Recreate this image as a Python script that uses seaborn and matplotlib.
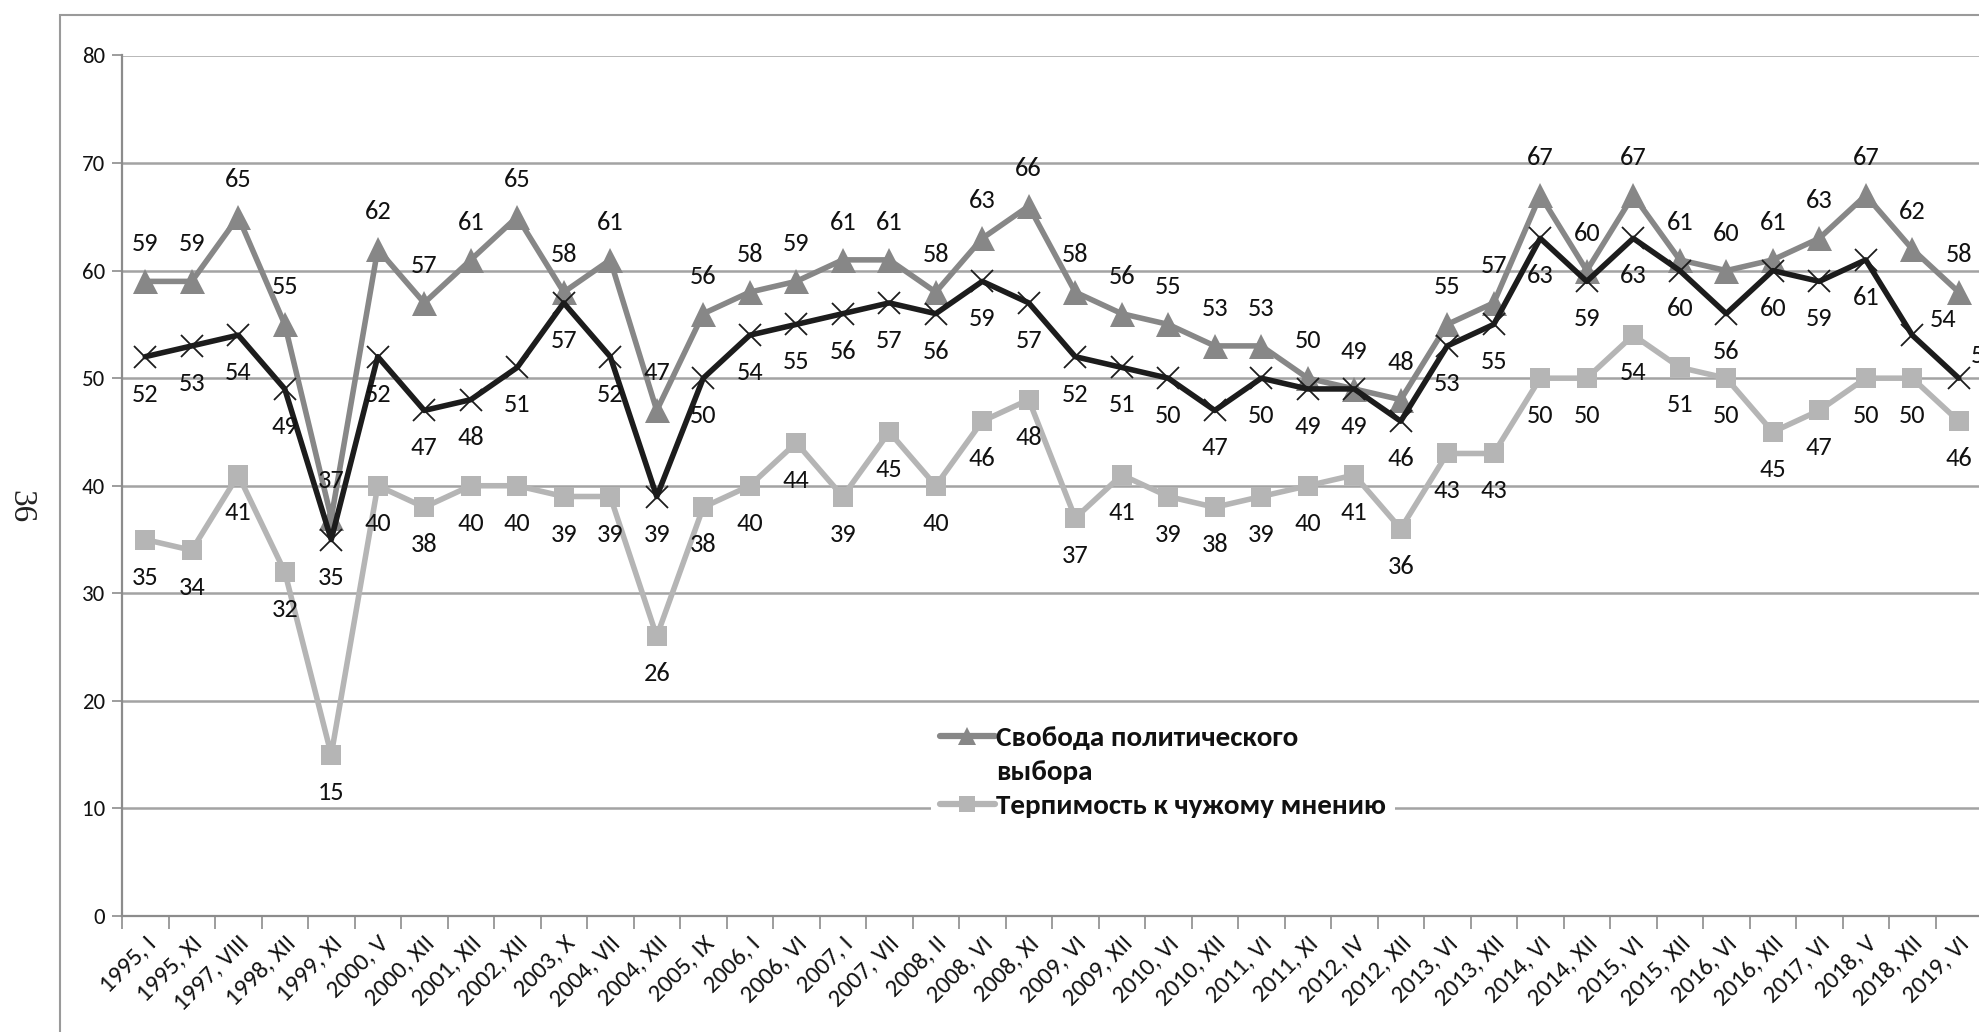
import numpy as np
import pandas as pd
import matplotlib
matplotlib.use("Agg")
import matplotlib.pyplot as plt
import seaborn as sns
from matplotlib import font_manager
from matplotlib.patches import Rectangle
from matplotlib.lines import Line2D

categories = [
    "1995, I", "1995, XI", "1997, VIII", "1998, XII", "1999, XI", "2000, V",
    "2000, XII", "2001, XII", "2002, XII", "2003, X", "2004, VII", "2004, XII",
    "2005, IX", "2006, I", "2006, VI", "2007, I", "2007, VII", "2008, II",
    "2008, VI", "2008, XI", "2009, VI", "2009, XII", "2010, VI", "2010, XII",
    "2011, VI", "2011, XI", "2012, IV", "2012, XII", "2013, VI", "2013, XII",
    "2014, VI", "2014, XII", "2015, VI", "2015, XII", "2016, VI", "2016, XII",
    "2017, VI", "2018, V", "2018, XII", "2019, VI",
]
svoboda_vybora = [59, 59, 65, 55, 37, 62, 57, 61, 65, 58, 61, 47, 56, 58, 59, 61, 61, 58, 63, 66,
                  58, 56, 55, 53, 53, 50, 49, 48, 55, 57, 67, 60, 67, 61, 60, 61, 63, 67, 62, 58]
black_series = [52, 53, 54, 49, 35, 52, 47, 48, 51, 57, 52, 39, 50, 54, 55, 56, 57, 56, 59, 57,
                52, 51, 50, 47, 50, 49, 49, 46, 53, 55, 63, 59, 63, 60, 56, 60, 59, 61, 54, 50]
terpimost = [35, 34, 41, 32, 15, 40, 38, 40, 40, 39, 39, 26, 38, 40, 44, 39, 45, 40, 46, 48,
             37, 41, 39, 38, 39, 40, 41, 36, 43, 43, 50, 50, 54, 51, 50, 45, 47, 50, 50, 46]
legend_labels = ["Свобода политического", "выбора", "Терпимость к чужому мнению"]
y_ticks = [0, 10, 20, 30, 40, 50, 60, 70, 80]
page_number = "36"

W, H = 1979, 1032
sns.set_theme(style="white")
avail = {f.name for f in font_manager.fontManager.ttflist}
prefs = ["Carlito", "Liberation Sans Narrow", "Open Sans", "DejaVu Sans"]
fam = [f for f in prefs if f in avail]
plt.rcParams["font.family"] = fam

C_TRI = "#878787"
C_BLK = "#1c1c1c"
C_SQ = "#b5b5b5"
C_GRID = "#a3a3a3"

fig = plt.figure(figsize=(W / 100, H / 100), dpi=100)
fig.patches.append(Rectangle((60 / W, -0.1), 1.2, 1.1 - 15 / H, transform=fig.transFigure,
                             fill=False, edgecolor="#9a9a9a", lw=1.5, zorder=0))
ax = fig.add_axes([122 / W, (H - 916) / H, (1982 - 122) / W, (916 - 55.5) / H])

x = np.arange(len(categories))
df = pd.DataFrame({"x": x, "svoboda": svoboda_vybora, "black": black_series, "terp": terpimost})

sns.lineplot(data=df, x="x", y="terp", ax=ax, color=C_SQ, lw=4, marker="s", markersize=15,
             markeredgewidth=0, legend=False, zorder=3)
sns.lineplot(data=df, x="x", y="svoboda", ax=ax, color=C_TRI, lw=4, marker="^", markersize=18,
             markeredgewidth=0, legend=False, zorder=4)
sns.lineplot(data=df, x="x", y="black", ax=ax, color=C_BLK, lw=4, marker="x", markersize=16,
             markeredgewidth=1.3, markeredgecolor=C_BLK, legend=False, zorder=5)

ax.set_xlim(-0.5, len(categories) - 0.5)
ax.set_ylim(0, 80)
ax.set_yticks(y_ticks)
ax.set_yticklabels([str(t) for t in y_ticks])
ax.set_xlabel("")
ax.set_ylabel("")
ax.yaxis.grid(True, color=C_GRID, lw=1.8, zorder=0)
ax.xaxis.grid(False)
for s in ["top", "right"]:
    ax.spines[s].set_visible(False)
for s in ["left", "bottom"]:
    ax.spines[s].set_color("#8c8c8c")
    ax.spines[s].set_linewidth(1.6)

ax.set_xticks(np.arange(-0.5, len(categories), 1.0))
ax.set_xticklabels([])
ax.set_xticks(x, minor=True)
ax.set_xticklabels(categories, minor=True, rotation=45, ha="right", rotation_mode="anchor",
                   fontsize=18, color="#111111")
ax.tick_params(axis="x", which="major", bottom=True, length=9, width=1.2, color="#8c8c8c",
               direction="out")
ax.tick_params(axis="x", which="minor", bottom=True, length=0, pad=12)
ax.tick_params(axis="y", left=True, length=7, width=1.2, color="#8c8c8c", labelsize=16.5,
               pad=5, labelcolor="#111111")

LBL = 19
for i, v in enumerate(svoboda_vybora):
    ax.annotate(str(v), (i, v), xytext=(0, 27), textcoords="offset points", ha="center",
                va="center", fontsize=LBL, color="#111111", annotation_clip=False, zorder=6)
for i, v in enumerate(terpimost):
    ax.annotate(str(v), (i, v), xytext=(0, -27), textcoords="offset points", ha="center",
                va="center", fontsize=LBL, color="#111111", annotation_clip=False, zorder=6)
n = len(black_series)
for i, v in enumerate(black_series):
    off = (0, -27)
    if i == n - 2:
        off = (22, 11)
    elif i == n - 1:
        off = (18, 16)
    ax.annotate(str(v), (i, v), xytext=off, textcoords="offset points", ha="center",
                va="center", fontsize=LBL, color="#111111", annotation_clip=False, zorder=6)

handles = [
    Line2D([], [], color=C_TRI, lw=4.5, marker="^", markersize=13, markeredgewidth=0),
    Line2D([], [], color="none", lw=0),
    Line2D([], [], color=C_SQ, lw=4.5, marker="s", markersize=12, markeredgewidth=0),
]
leg = ax.legend(handles, legend_labels, loc="center", bbox_to_anchor=(1163 / W, 1 - 772 / H),
                bbox_transform=fig.transFigure, frameon=True, facecolor="white",
                edgecolor="none", framealpha=1, fancybox=False,
                prop={"weight": "bold", "size": 21}, handlelength=1.9, handletextpad=0.05,
                labelspacing=0.33, borderpad=0.3, borderaxespad=0)
leg.set_zorder(7)
for t in leg.get_texts():
    t.set_color("#111111")

fig.text(21 / W, 1 - 507 / H, page_number, rotation=-90, fontsize=24, ha="center", va="center",
         family=["Liberation Serif", "DejaVu Serif"], color="#222222")

fig.savefig("out.png", dpi=100)
